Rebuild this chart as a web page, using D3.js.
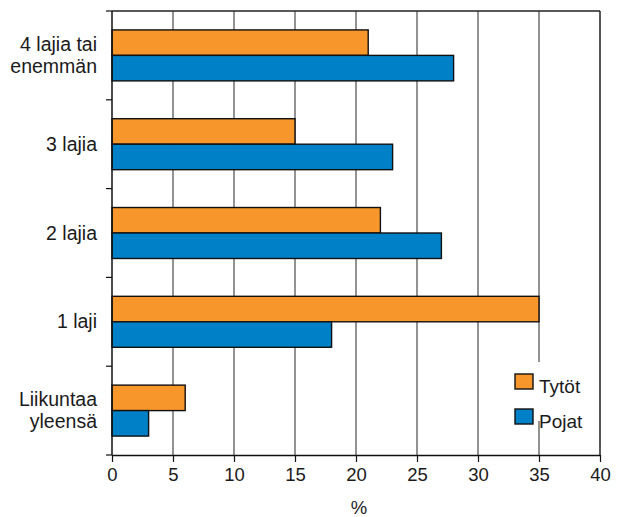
<!DOCTYPE html>
<html><head><meta charset="utf-8">
<script src="https://cdn.jsdelivr.net/npm/d3@7"></script>
<style>body{margin:0;background:#fff;} text{font-family:"Liberation Sans",Arial,sans-serif;fill:#1a1a1a;}</style>
</head><body>
<svg id="c" width="622" height="517"></svg>
<script>
const categories = [["4 lajia tai","enemmän"],["3 lajia"],["2 lajia"],["1 laji"],["Liikuntaa","yleensä"]];
const seriesNames = ["Tytöt","Pojat"];
const tytot = [21, 15, 22, 35, 6];
const pojat = [28, 23, 27, 18, 3];
const xTicks = [0,5,10,15,20,25,30,35,40];
const colors = ["#F7962B","#0080C6"];

const svg = d3.select("#c");
const L=112, R=600, T=11, B=455;
const x = d3.scaleLinear().domain([0,40]).range([L,R]);
const y = d3.scaleBand().domain(d3.range(categories.length)).range([T,B]).paddingInner(0.426).paddingOuter(0.213);
const yFull = d3.scaleBand().domain(d3.range(categories.length)).range([T,B]);
const sub = d3.scaleBand().domain([0,1]).range([0,y.bandwidth()]);

// gridlines
svg.append("g").selectAll("line").data(xTicks.slice(1,-1)).join("line")
  .attr("x1",d=>x(d)).attr("x2",d=>x(d)).attr("y1",T).attr("y2",B)
  .attr("stroke","#4a4a4a").attr("stroke-width",1.2);

// bars
const series=[tytot,pojat];
series.forEach((vals,si)=>{
  svg.append("g").selectAll("rect").data(vals).join("rect")
    .attr("x",x(0)).attr("y",(d,i)=>y(i)+sub(si))
    .attr("width",d=>x(d)-x(0)).attr("height",sub.bandwidth())
    .attr("fill",colors[si]).attr("stroke","#111").attr("stroke-width",1.4);
});

// frame
svg.append("line").attr("x1",L).attr("x2",R).attr("y1",T).attr("y2",T).attr("stroke","#222").attr("stroke-width",1.5);
svg.append("line").attr("x1",R).attr("x2",R).attr("y1",T).attr("y2",B).attr("stroke","#222").attr("stroke-width",1.5);

// x axis
const xa = svg.append("g").attr("transform",`translate(0,${B})`)
  .call(d3.axisBottom(x).tickValues(xTicks).tickSize(7).tickPadding(6).tickSizeOuter(0));
xa.select(".domain").attr("stroke","#111").attr("stroke-width",1.5);
xa.selectAll(".tick line").attr("stroke","#111").attr("stroke-width",1.2);
xa.selectAll(".tick text").attr("font-size",18.5).attr("font-family","Liberation Sans, Arial, sans-serif").attr("fill","#1a1a1a");

// y axis line + ticks at boundaries
svg.append("line").attr("x1",L).attr("x2",L).attr("y1",T).attr("y2",B).attr("stroke","#111").attr("stroke-width",1.5);
const bounds = d3.range(categories.length+1).map(i=>i<categories.length?yFull(i):B);
svg.append("g").selectAll("line").data(bounds).join("line")
  .attr("x1",L-6).attr("x2",L).attr("y1",d=>d).attr("y2",d=>d).attr("stroke","#111").attr("stroke-width",1.2);

// category labels
categories.forEach((lines,i)=>{
  const cy = yFull(i)+yFull.bandwidth()/2;
  const lh = 22;
  const t = svg.append("text").attr("text-anchor","end").attr("font-size",19.5);
  lines.forEach((ln,k)=>{
    t.append("tspan").attr("x",97).attr("y",cy + (k-(lines.length-1)/2)*lh + 6.5).text(ln);
  });
});

// x title
svg.append("text").attr("x",359).attr("y",514).attr("text-anchor","middle").attr("font-size",18.5).text("%");

// legend
svg.append("rect").attr("x",508).attr("y",362).attr("width",86).attr("height",59).attr("fill","#fff");
seriesNames.forEach((n,i)=>{
  const yy = 374 + i*35;
  svg.append("rect").attr("x",515).attr("y",yy).attr("width",18).attr("height",15)
    .attr("fill",colors[i]).attr("stroke","#111").attr("stroke-width",1.4);
  svg.append("text").attr("x",539).attr("y",yy+19).attr("font-size",19).text(n);
});
</script></body></html>
